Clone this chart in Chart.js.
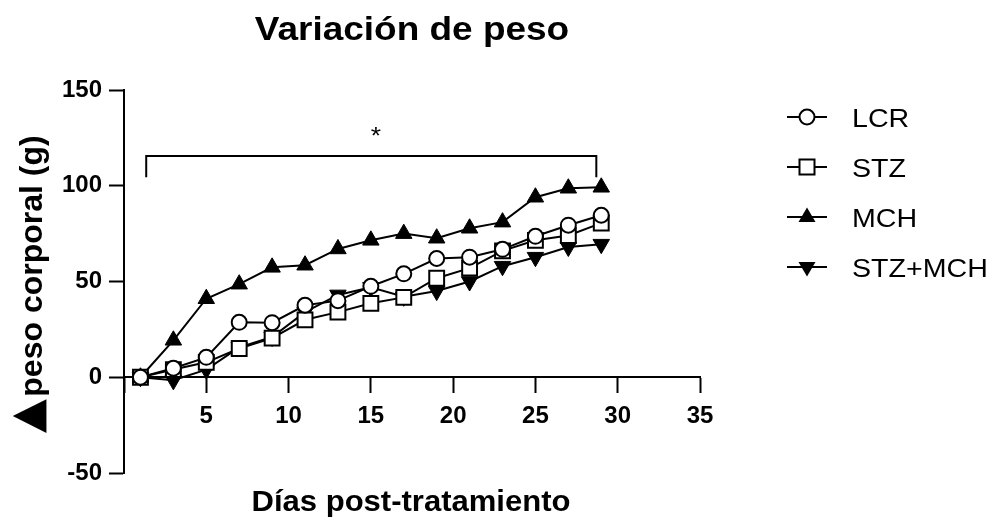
<!DOCTYPE html>
<html>
<head>
<meta charset="utf-8">
<script src="https://cdn.jsdelivr.net/npm/chart.js@4/dist/chart.umd.min.js"></script>
<style>
  html, body { margin: 0; padding: 0; background: #fff; }
</style>
</head>
<body>
<canvas id="chart" width="1000" height="525"></canvas>
<script>
// data (days post treatment vs weight change in g)
const days = [1, 3, 5, 7, 9, 11, 13, 15, 17, 19, 21, 23, 25, 27, 29];
const lcr = [0, 4.7, 10.4, 28.7, 28.5, 37.6, 40, 47.5, 54, 62, 62.7, 66.8, 73.6, 79.4, 84.6];
const stz = [0, 4, 7.8, 15, 20.4, 30, 34, 38.6, 41.7, 51.7, 57, 66, 71.5, 74, 80.5];
const mch = [0, 19.3, 41, 48.6, 57.4, 58.5, 67, 71.5, 75, 72.6, 77.8, 81, 94, 98.7, 99.2];
const stzMch = [0, -1.6, 4, 15.6, 21, 34, 43, 47, 42, 45, 50, 58, 62.7, 68, 69.5];
const seriesNames = ['LCR', 'STZ', 'MCH', 'STZ+MCH'];

const xTicks = [0, 5, 10, 15, 20, 25, 30, 35];
const yTicks = [-50, 0, 50, 100, 150];

// significance bracket
const bracketX = [1.35, 28.7];
const bracketY = [104.5, 115.5];
const starPos = [15.3, 128];

const FONT = "'Liberation Sans', Arial, sans-serif";

function toPoints(ys) {
    return days.map((d, i) => ({ x: d, y: ys[i] }));
}

function stretchText(ctx, text, x, y, font, sx, align) {
    ctx.save();
    ctx.font = font;
    ctx.fillStyle = '#000';
    ctx.textAlign = align;
    ctx.textBaseline = 'alphabetic';
    ctx.translate(x, y);
    ctx.scale(sx, 1);
    ctx.fillText(text, 0, 0);
    ctx.restore();
}

function marker(ctx, style, x, y) {
    ctx.save();
    ctx.lineWidth = 2;
    ctx.strokeStyle = '#000';
    ctx.beginPath();
    if (style === 'circle') {
        ctx.arc(x, y, 7.5, 0, Math.PI * 2);
        ctx.fillStyle = '#fff';
        ctx.fill();
        ctx.stroke();
    } else if (style === 'rect') {
        ctx.rect(x - 7.5, y - 7.5, 15, 15);
        ctx.fillStyle = '#fff';
        ctx.fill();
        ctx.stroke();
    } else {
        const s = style === 'up' ? 1 : -1;
        ctx.moveTo(x, y - 9.5 * s);
        ctx.lineTo(x + 8.5, y + 5 * s);
        ctx.lineTo(x - 8.5, y + 5 * s);
        ctx.closePath();
        ctx.fillStyle = '#000';
        ctx.fill();
    }
    ctx.restore();
}

const decor = {
    id: 'decor',
    afterDraw(chart) {
        const ctx = chart.ctx;
        const xs = chart.scales.x;
        const ys = chart.scales.y;

        // title and x title
        stretchText(ctx, 'Variación de peso', 412, 40, 'bold 33px ' + FONT, 1.12, 'center');
        stretchText(ctx, 'Días post-tratamiento', 411, 511, 'bold 29px ' + FONT, 1.07, 'center');

        // y title, rotated
        ctx.save();
        ctx.fillStyle = '#000';
        ctx.translate(42, 266);
        ctx.rotate(-Math.PI / 2);
        ctx.textAlign = 'center';
        ctx.textBaseline = 'alphabetic';
        ctx.font = 'bold 32px ' + FONT;
        ctx.fillText('peso corporal (g)', 0, 0);
        ctx.restore();
        ctx.save();
        ctx.fillStyle = '#000';
        ctx.translate(41, 416);
        ctx.rotate(-Math.PI / 2);
        ctx.textAlign = 'center';
        ctx.textBaseline = 'alphabetic';
        ctx.font = "44px 'DejaVu Sans'";
        ctx.fillText('▲', 0, 0);
        ctx.restore();

        // bracket + star
        const bx0 = xs.getPixelForValue(bracketX[0]);
        const bx1 = xs.getPixelForValue(bracketX[1]);
        const byLow = ys.getPixelForValue(bracketY[0]);
        const byTop = ys.getPixelForValue(bracketY[1]);
        ctx.save();
        ctx.strokeStyle = '#000';
        ctx.lineWidth = 2;
        ctx.beginPath();
        ctx.moveTo(bx0, byLow);
        ctx.lineTo(bx0, byTop);
        ctx.lineTo(bx1, byTop);
        ctx.lineTo(bx1, byLow);
        ctx.stroke();
        ctx.restore();
        stretchText(ctx, '*', xs.getPixelForValue(starPos[0]), ys.getPixelForValue(starPos[1]) + 12,
            '24px ' + FONT, 1.1, 'center');

        // legend
        const styles = ['circle', 'rect', 'up', 'down'];
        seriesNames.forEach((name, i) => {
            const cy = 117 + i * 50;
            ctx.save();
            ctx.strokeStyle = '#000';
            ctx.lineWidth = 2;
            ctx.beginPath();
            ctx.moveTo(787, cy);
            ctx.lineTo(827, cy);
            ctx.stroke();
            ctx.restore();
            marker(ctx, styles[i], 807, cy);
            stretchText(ctx, name, 852, cy + 9.5, '26px ' + FONT, 1.1, 'left');
        });
    }
};

const lineBase = {
    borderColor: '#000',
    borderWidth: 2,
    pointBorderColor: '#000',
    pointBorderWidth: 2,
    tension: 0,
    clip: false
};

const data = {
    datasets: [
        Object.assign({}, lineBase, {
            label: seriesNames[0], data: toPoints(lcr),
            pointStyle: 'circle', pointRadius: 7.5, pointBackgroundColor: '#fff'
        }),
        Object.assign({}, lineBase, {
            label: seriesNames[1], data: toPoints(stz),
            pointStyle: 'rect', pointRadius: 10.5, pointBackgroundColor: '#fff'
        }),
        Object.assign({}, lineBase, {
            label: seriesNames[2], data: toPoints(mch),
            pointStyle: 'triangle', pointRadius: 9.5, pointBackgroundColor: '#000', pointBorderWidth: 1
        }),
        Object.assign({}, lineBase, {
            label: seriesNames[3], data: toPoints(stzMch),
            pointStyle: 'triangle', pointRotation: 180, pointRadius: 9.5, pointBackgroundColor: '#000', pointBorderWidth: 1
        })
    ]
};

const tickFont = { family: FONT, size: 24, weight: 'bold' };

const options = {
    responsive: false,
    animation: false,
    layout: { padding: { top: 90, right: 300, bottom: 52, left: 0 } },
    scales: {
        x: {
            type: 'linear',
            position: { y: 0 },
            min: 0,
            max: 35,
            afterBuildTicks: s => { s.ticks = xTicks.map(v => ({ value: v })); },
            ticks: {
                color: '#000',
                font: tickFont,
                padding: 10,
                maxRotation: 0,
                callback: v => (v === 0 ? '' : v)
            },
            grid: { drawOnChartArea: false, drawTicks: true, tickLength: 15, tickWidth: 2, tickColor: '#000' },
            border: { color: '#000', width: 2 }
        },
        y: {
            type: 'linear',
            position: 'left',
            min: -50,
            max: 150,
            afterBuildTicks: s => { s.ticks = yTicks.map(v => ({ value: v })); },
            afterFit: s => { s.width = 124; },
            ticks: { color: '#000', font: tickFont, padding: 7 },
            grid: { drawOnChartArea: false, drawTicks: true, tickLength: 15, tickWidth: 2, tickColor: '#000' },
            border: { color: '#000', width: 2 }
        }
    },
    plugins: {
        legend: { display: false },
        title: { display: false },
        tooltip: { enabled: false }
    }
};

new Chart(document.getElementById('chart').getContext('2d'), {
    type: 'line',
    data: data,
    options: options,
    plugins: [decor]
});
</script>
</body>
</html>
